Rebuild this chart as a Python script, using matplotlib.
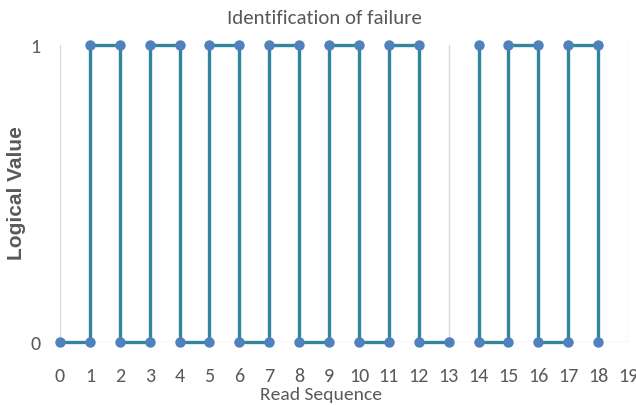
import numpy as np
import matplotlib
matplotlib.use("Agg")
import matplotlib.pyplot as plt
from matplotlib import font_manager

# Data: read sequence (x) and logical value (y); NaN marks a break in the line
read_seq = [0, 1, 1, 2, 2, 3, 3, 4, 4, 5, 5, 6, 6, 7, 7, 8, 8, 9, 9, 10, 10, 11, 11, 12, 12, 13,
            np.nan,
            14, 14, 15, 15, 16, 16, 17, 17, 18, 18]
logic_val = [0, 0, 1, 1, 0, 0, 1, 1, 0, 0, 1, 1, 0, 0, 1, 1, 0, 0, 1, 1, 0, 0, 1, 1, 0, 0,
             np.nan,
             1, 0, 0, 1, 1, 0, 0, 1, 1, 0]
x_ticks = list(range(0, 20))
y_ticks = [0, 1]

names = {f.name for f in font_manager.fontManager.ttflist}
narrow = "DejaVu Sans"
for cand in ["Carlito", "Liberation Sans Narrow", "PT Sans Narrow", "Open Sans Condensed",
             "Roboto Condensed", "Archivo Narrow", "Lato"]:
    if cand in names:
        narrow = cand
        break

txt = "#595959"
fig = plt.figure(figsize=(6.36, 4.06), dpi=100)
ax = fig.add_axes([60/636, 1-343/406, (628-60)/636, (343-46)/406])

ax.plot(read_seq, logic_val, color="#31859C", lw=2.4, marker="o", ms=6.5,
        mfc="#4F81BD", mec="#4F81BD", clip_on=False, zorder=3)

ax.set_xlim(0, 19)
ax.set_ylim(0, 1)
ax.set_xticks(x_ticks)
ax.set_yticks(y_ticks)
ax.set_xticklabels([str(v) for v in x_ticks], fontfamily=narrow, fontsize=14.5, color=txt)
ax.set_yticklabels([str(v) for v in y_ticks], fontfamily=narrow, fontsize=14.5, color=txt)
ax.tick_params(length=0, pad=14, axis="y")
ax.tick_params(length=0, pad=18, axis="x")
ax.grid(axis="x", color="#D9D9D9", lw=1, zorder=0)
ax.axhline(0, color="#D9D9D9", lw=1, zorder=0)
for s in ax.spines.values():
    s.set_visible(False)

fig.text(324/636, 1-18/406, "Identification of failure", ha="center", va="center",
         fontfamily=narrow, fontsize=15, color=txt)
fig.text(321/636, 1-395/406, "Read Sequence", ha="center", va="center",
         fontfamily=narrow, fontsize=14, color=txt)
fig.text(17/636, 1-193/406, "Logical Value", ha="center", va="center", rotation=90,
         fontfamily="Liberation Sans", fontweight="bold", fontsize=15, color=txt)

fig.savefig("out.png", dpi=100)
